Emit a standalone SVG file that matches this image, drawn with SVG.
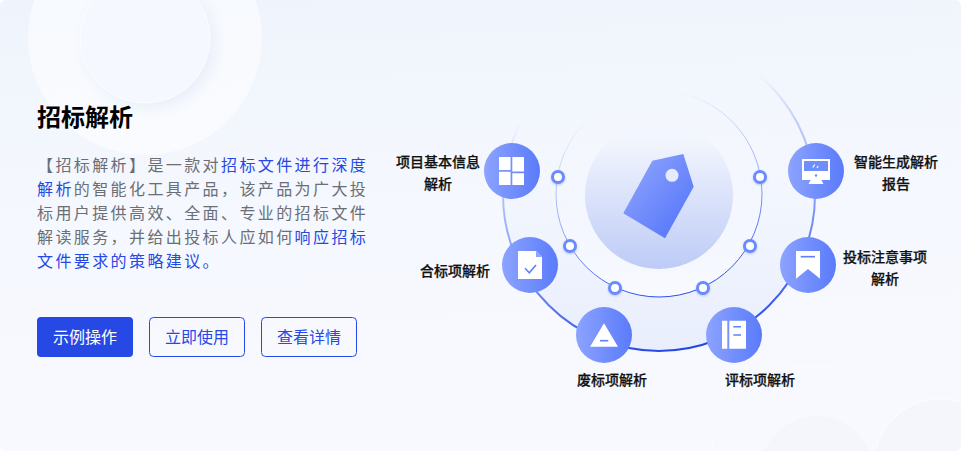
<svg xmlns="http://www.w3.org/2000/svg" width="961" height="451" viewBox="0 0 961 451">
<style>
text{font-family:"Noto Sans CJK SC","Noto Sans",sans-serif}
.body{font-size:16px;letter-spacing:2.4px;fill:#6b6e75}
.hl{fill:#2649e6}
.lbl{font-size:14px;font-weight:500;fill:#111;text-anchor:middle;stroke:#111;stroke-width:.25}
.btn{font-size:16px;text-anchor:middle;fill:#2649e6}
.out{fill:none;stroke:#2649e6;stroke-width:1}
.nc{fill:url(#nodeG)}
.w{fill:#fff}
.dash{fill:none;stroke:#5f80fb;stroke-width:1.6}
.dot{fill:#fff;stroke:#6b8bfd;stroke-width:3;filter:url(#sh)}
</style>
<defs>
<linearGradient id="bg" x1="0" y1="0" x2="0.1" y2="1"><stop offset="0" stop-color="#eff4fc"/><stop offset=".5" stop-color="#f5f8fe"/><stop offset="1" stop-color="#f8f9fe"/></linearGradient>
<linearGradient id="nodeG" x1="0" y1="0" x2="1" y2="0"><stop offset="0" stop-color="#8ca3ff"/><stop offset="1" stop-color="#5a7bfa"/></linearGradient>
<linearGradient id="discG" x1="0" y1="0" x2="0" y2="1"><stop offset="0" stop-color="#f5f8ff" stop-opacity="0"/><stop offset=".2" stop-color="#eef2fd"/><stop offset="1" stop-color="#bdcbf6"/></linearGradient>
<linearGradient id="tagG" x1="0" y1="0" x2="1" y2="1"><stop offset="0" stop-color="#95a9ff"/><stop offset="1" stop-color="#4d70f8"/></linearGradient>
<linearGradient id="outerF" gradientUnits="userSpaceOnUse" x1="659" y1="150" x2="659" y2="351"><stop offset="0" stop-color="#eaeffd" stop-opacity="0"/><stop offset="1" stop-color="#e9eefd"/></linearGradient>
<linearGradient id="innerF" gradientUnits="userSpaceOnUse" x1="659" y1="150" x2="659" y2="297"><stop offset="0" stop-color="#f5f8ff" stop-opacity="0"/><stop offset="1" stop-color="#f8faff"/></linearGradient>
<linearGradient id="outerS" gradientUnits="userSpaceOnUse" x1="630" y1="100" x2="680" y2="351"><stop offset="0" stop-color="#aebdf6" stop-opacity="0"/><stop offset=".25" stop-color="#aebdf6" stop-opacity=".85"/><stop offset=".55" stop-color="#7f98f5"/><stop offset="1" stop-color="#2447e4"/></linearGradient>
<linearGradient id="innerS" gradientUnits="userSpaceOnUse" x1="630" y1="105" x2="680" y2="297"><stop offset="0" stop-color="#aebdf6" stop-opacity="0"/><stop offset=".3" stop-color="#aebdf6" stop-opacity=".85"/><stop offset=".55" stop-color="#8ba2f6"/><stop offset="1" stop-color="#2649e6"/></linearGradient>
<filter id="sh" x="-40%" y="-40%" width="180%" height="180%"><feDropShadow dx="0" dy="1" stdDeviation="1" flood-color="#5f7de8" flood-opacity=".4"/></filter>
<filter id="soft" x="-20%" y="-20%" width="140%" height="140%"><feDropShadow dx="5" dy="5" stdDeviation="7" flood-color="#dbe4f6" flood-opacity=".55"/></filter>
<clipPath id="card"><rect width="961" height="451" rx="6"/></clipPath>
</defs>

<rect width="961" height="451" fill="#fff"/>
<g id="background" clip-path="url(#card)">
<rect width="961" height="451" fill="url(#bg)"/>
<circle cx="145" cy="38" r="117" fill="#fff" fill-opacity=".5"/>
<circle cx="145" cy="38" r="65" fill="#f5f8fe" stroke="#fcfdff" stroke-width="1" filter="url(#soft)"/>
<circle cx="815" cy="472" r="106" fill="#f7f9fe" stroke="#fbfcff" stroke-width="1"/>
<circle cx="817" cy="472" r="56" fill="#f4f6fc"/>
<circle cx="940" cy="465" r="66" fill="#f4f6fc" stroke="#fcfdff" stroke-width="1"/>
</g>

<g id="intro">
<text x="37" y="126" font-size="24" font-weight="700" fill="#000">招标解析</text>
<text class="body" x="37" y="171">【招标解析】是一款对<tspan class="hl">招标文件进行深度</tspan></text>
<text class="body" x="37" y="195"><tspan class="hl">解析</tspan>的智能化工具产品，该产品为广大投</text>
<text class="body" x="37" y="219">标用户提供高效、全面、专业的招标文件</text>
<text class="body" x="37" y="243">解读服务，并给出投标人应如何<tspan class="hl">响应招标</tspan></text>
<text class="body" x="37" y="267"><tspan class="hl">文件要求的策略建议。</tspan></text>
</g>

<g id="btn-demo"><rect x="37" y="317" width="96" height="40" rx="4" fill="#2649e6"/><text class="btn" x="85" y="343" style="fill:#fff">示例操作</text></g>
<g id="btn-use"><rect class="out" x="149.500" y="317.500" width="95" height="39" rx="4"/><text class="btn" x="197" y="343">立即使用</text></g>
<g id="btn-detail"><rect class="out" x="261.500" y="317.500" width="95" height="39" rx="4"/><text class="btn" x="309" y="343">查看详情</text></g>

<g id="connectors">
<circle cx="659" cy="195" r="156" fill="url(#outerF)" stroke="url(#outerS)" stroke-width="2"/>
<circle cx="659" cy="194" r="103" fill="url(#innerF)" stroke="url(#innerS)" stroke-width="1"/>
</g>

<g id="center">
<circle cx="659" cy="195" r="74" fill="url(#discG)"/>
<path d="M652.300 160.700L683.300 154L693.700 186.700L665 238.300L623.300 213.300Z" fill="url(#tagG)"/>
<circle cx="672" cy="175.300" r="6.500" fill="#e6ebfd"/>
</g>

<g id="dots">
<circle class="dot" cx="558" cy="177" r="5.500"/>
<circle class="dot" cx="570" cy="246" r="5.500"/>
<circle class="dot" cx="615" cy="288" r="5.500"/>
<circle class="dot" cx="703" cy="288" r="5.500"/>
<circle class="dot" cx="750" cy="246" r="5.500"/>
<circle class="dot" cx="760" cy="177" r="5.500"/>
</g>

<g id="node-info">
<circle class="nc" cx="512" cy="171" r="28"/>
<path class="w" d="M499 157H510.600V170H499ZM512.300 157H524V171.600H512.300ZM499 171.700H510.600V185H499ZM512.300 173.300H524V185H512.300Z"/>
<text class="lbl" x="438" y="167">项目基本信息</text><text class="lbl" x="438" y="189">解析</text>
</g>
<g id="node-comply">
<circle class="nc" cx="530" cy="265" r="28"/>
<path class="w" d="M518 251H536L542 257V279H518Z"/>
<path d="M536 251L542 257H536Z" fill="#8ea4fd"/>
<path class="dash" d="M525 268.300L529.300 272.700L536 265"/>
<text class="lbl" x="455" y="276">合标项解析</text>
</g>
<g id="node-void">
<circle class="nc" cx="604" cy="335" r="28"/>
<path class="w" d="M604 323.300L618 346.700H590Z"/>
<path class="dash" d="M600 340.700H608.300"/>
<text class="lbl" x="612" y="385">废标项解析</text>
</g>
<g id="node-score">
<circle class="nc" cx="734" cy="335" r="28"/>
<path class="w" d="M722 320.700H727.300V348.700H722ZM729.300 320.700H746V348.700H729.300Z"/>
<path class="dash" d="M733.300 326.700H741M733.300 335H741"/>
<text class="lbl" x="760" y="385">评标项解析</text>
</g>
<g id="node-report">
<circle class="nc" cx="816" cy="171" r="28"/>
<path class="w" d="M802 159H830V180H821.500L823.500 184H808.500L810.500 180H802Z"/>
<rect x="804" y="161" width="24" height="10" fill="#6f8dfc"/>
<circle cx="816" cy="175.500" r="1.200" fill="#6f8dfc"/>
<path d="M812.800 167.500L814.800 164.500M817 168L818.200 166" fill="none" stroke="#fff" stroke-width="1.200"/>
<text class="lbl" x="896" y="167">智能生成解析</text><text class="lbl" x="896" y="189">报告</text>
</g>
<g id="node-notes">
<circle class="nc" cx="808" cy="265" r="28"/>
<path class="w" d="M796 251H820V278.700L808 269L796 278.700Z"/>
<path class="dash" d="M800.700 256.700H815"/>
<text class="lbl" x="885" y="262">投标注意事项</text><text class="lbl" x="885" y="284">解析</text>
</g>
</svg>
